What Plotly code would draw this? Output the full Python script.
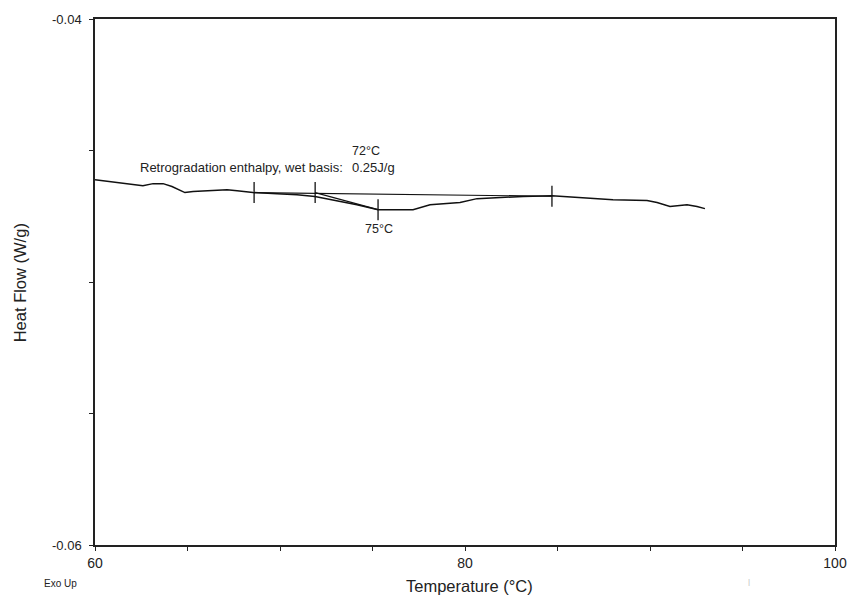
import plotly.graph_objects as go

# Heat flow curve (temperature in °C, heat flow in W/g)
temperature = [60.0, 60.43, 61.51, 62.59, 63.14, 63.68, 64.16, 64.86, 65.30, 66.22, 67.14, 67.68,
               68.54, 69.84, 70.92, 71.89, 73.08, 74.16, 75.30, 76.49, 77.19, 78.11, 79.73, 80.65,
               81.73, 83.14, 84.70, 86.22, 88.0, 89.84, 90.38, 91.08, 92.0, 92.54, 92.97]
heat_flow = [-0.04611, -0.04615, -0.04626, -0.04634, -0.04626, -0.04626, -0.04637, -0.04660,
             -0.04656, -0.04653, -0.04649, -0.04653, -0.04660, -0.04664, -0.04668, -0.04675,
             -0.04690, -0.04706, -0.04725, -0.04725, -0.04725, -0.04706, -0.04698, -0.04683,
             -0.04679, -0.04675, -0.04672, -0.04679, -0.04687, -0.04690, -0.04698, -0.04713,
             -0.04706, -0.04713, -0.04721]

# Integration baseline and onset tangent
baseline_t = [68.6, 84.7]
baseline_hf = [-0.04660, -0.04674]
tangent_t = [71.9, 75.3]
tangent_hf = [-0.04660, -0.04725]

# Analysis limit markers
marker_t = [68.6, 71.9, 75.3, 84.7]
marker_hf = [-0.04660, -0.04660, -0.04725, -0.04674]

x_ticks = [60, 65, 70, 75, 80, 85, 90, 95, 100]
x_labels = ["60", "", "", "", "80", "", "", "", "100"]
y_ticks = [-0.06, -0.055, -0.05, -0.045, -0.04]
y_labels = ["-0.06", "", "", "", "-0.04"]

fig = go.Figure()
fig.add_trace(go.Scatter(x=temperature, y=heat_flow, mode="lines",
                         line=dict(color="#111111", width=1.5)))
fig.add_trace(go.Scatter(x=baseline_t, y=baseline_hf, mode="lines",
                         line=dict(color="#111111", width=1.2)))
fig.add_trace(go.Scatter(x=tangent_t, y=tangent_hf, mode="lines",
                         line=dict(color="#111111", width=1.2)))
fig.add_trace(go.Scatter(x=marker_t, y=marker_hf, mode="markers",
                         marker=dict(symbol="line-ns", size=15,
                                     line=dict(color="#111111", width=1.3))))

font = "Liberation Sans, Arial, sans-serif"
fig.update_layout(
    width=861, height=598,
    margin=dict(l=95, r=26, t=14, b=53),
    paper_bgcolor="white", plot_bgcolor="white",
    showlegend=False,
    font=dict(family=font, color="#222222", size=13),
    xaxis=dict(range=[60, 100], tickvals=x_ticks, ticktext=x_labels,
               ticks="outside", ticklen=4, tickwidth=1.2, tickcolor="#222222",
               showline=True, linecolor="#222222", linewidth=1.5, mirror=True,
               showgrid=False, zeroline=False, tickfont=dict(size=14)),
    yaxis=dict(range=[-0.06, -0.04], tickvals=y_ticks, ticktext=y_labels,
               ticks="outside", ticklen=4, tickwidth=1.2, tickcolor="#222222",
               showline=True, linecolor="#222222", linewidth=1.5, mirror=True,
               showgrid=False, zeroline=False, tickfont=dict(size=13),
               ticklabelstandoff=5),
    annotations=[
        dict(text="Heat Flow (W/g)", xref="paper", yref="paper", x=-0.101, y=0.498,
             textangle=-90, showarrow=False, font=dict(size=16.5),
             xanchor="center", yanchor="middle"),
        dict(text="Temperature (°C)", xref="paper", yref="paper", x=0.506, y=-0.078,
             showarrow=False, font=dict(size=16.5), xanchor="center", yanchor="middle"),
        dict(text="Exo Up", xref="paper", yref="paper", x=-0.046, y=-0.074,
             showarrow=False, font=dict(size=10), xanchor="center", yanchor="middle"),
        dict(text="|", xref="paper", yref="paper", x=0.884, y=-0.070,
             showarrow=False, font=dict(size=8, color="#bbbbbb"), xanchor="center", yanchor="middle"),
        dict(text="72°C", x=73.78, y=-0.0450, xref="x", yref="y", showarrow=False,
             font=dict(size=12.5), xanchor="left", yanchor="middle"),
        dict(text="Retrogradation enthalpy, wet basis:", x=62.3, y=-0.04564,
             xref="x", yref="y", showarrow=False, font=dict(size=13),
             xanchor="left", yanchor="middle"),
        dict(text="0.25J/g", x=73.78, y=-0.04564,
             xref="x", yref="y", showarrow=False, font=dict(size=13),
             xanchor="left", yanchor="middle"),
        dict(text="75°C", x=75.35, y=-0.04799, xref="x", yref="y", showarrow=False,
             font=dict(size=12.5), xanchor="center", yanchor="middle"),
    ],
)

fig.write_html("out.html")
